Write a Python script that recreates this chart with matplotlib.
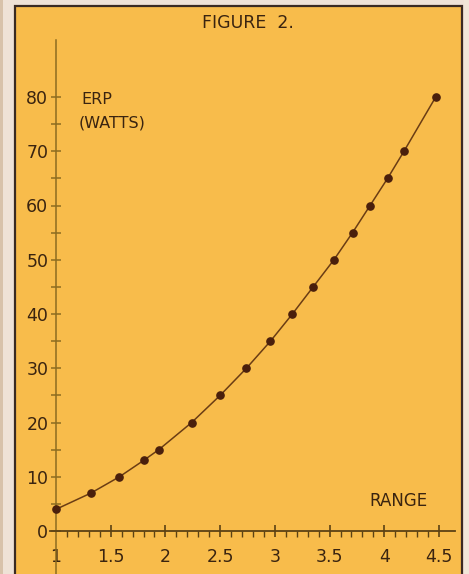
#!/usr/bin/env python3
"""Effective radiated power needed versus range, drawn as a hand-lettered style chart."""

import matplotlib

matplotlib.use("Agg")
import matplotlib.pyplot as plt
from matplotlib.patches import Rectangle
from matplotlib.ticker import FixedLocator

RANGE = [1.0, 1.32, 1.58, 1.80, 1.94, 2.24, 2.50, 2.74, 2.96, 3.16,
         3.35, 3.54, 3.71, 3.87, 4.03, 4.18, 4.47]
ERP_WATTS = [4, 7, 10, 13, 15, 20, 25, 30, 35, 40, 45, 50, 55, 60, 65, 70, 80]

X_TICKS = [1, 1.5, 2, 2.5, 3, 3.5, 4, 4.5]
X_TICK_LABELS = ["1", "1.5", "2", "2.5", "3", "3.5", "4", "4.5"]
X_MINOR = [1.1, 1.2, 1.3, 1.4, 1.6, 1.7, 1.8, 1.9, 2.1, 2.2, 2.3, 2.4,
           2.6, 2.7, 2.8, 2.9, 3.1, 3.2, 3.3, 3.4, 3.6, 3.7, 3.8, 3.9,
           4.1, 4.2, 4.3, 4.4]
Y_TICKS = [0, 10, 20, 30, 40, 50, 60, 70, 80]
Y_MINOR = [5, 15, 25, 35, 45, 55, 65, 75]

W, H = 469, 574
INK = "#3a2410"
PANEL = "#f8bc4b"
PAPER = "#efe2d6"


def main() -> None:
    fig = plt.figure(figsize=(W / 100, H / 100), dpi=100)
    fig.patch.set_facecolor(PAPER)

    ax = fig.add_axes([0, 0, 1, 1])
    ax.set_facecolor("none")
    # data range chosen so the axes fill the whole card
    ax.set_xlim(1 - 56 / 109.43, 1 + 413 / 109.43)
    ax.set_ylim(-43 / 5.425, 531 / 5.425)

    # card background with its dark edge
    ax.add_patch(Rectangle((15 / W, -0.01), 447 / W, 1.01 - 6 / H, transform=ax.transAxes,
                           facecolor=PANEL, edgecolor="#3a2a22", linewidth=1.6,
                           zorder=0, clip_on=False))
    ax.add_patch(Rectangle((0, 0), 3 / W, 1, transform=ax.transAxes,
                           facecolor="#d8c2aa", edgecolor="none", zorder=0, clip_on=False))
    ax.add_patch(Rectangle((464 / W, 0), 5 / W, 1, transform=ax.transAxes,
                           facecolor="#f1e6d8", edgecolor="none", zorder=0, clip_on=False))

    ax.plot(RANGE, ERP_WATTS, color="#6b3d14", linewidth=1.1, zorder=3)
    ax.plot(RANGE, ERP_WATTS, linestyle="none", marker="o", markersize=5.2,
            color="#4a1f0c", zorder=4)

    for side in ("top", "right"):
        ax.spines[side].set_visible(False)
    ax.spines["left"].set_position(("data", 1))
    ax.spines["bottom"].set_position(("data", 0))
    ax.spines["left"].set_bounds(-8, 90.5)
    ax.spines["bottom"].set_bounds(0.945, 4.65)
    ax.spines["left"].set_color("#8c6c20")
    ax.spines["left"].set_linewidth(1.1)
    ax.spines["bottom"].set_color("#5c4214")
    ax.spines["bottom"].set_linewidth(1.3)

    ax.xaxis.set_major_locator(FixedLocator(X_TICKS))
    ax.set_xticklabels(X_TICK_LABELS)
    ax.xaxis.set_minor_locator(FixedLocator(X_MINOR))
    ax.yaxis.set_major_locator(FixedLocator(Y_TICKS))
    ax.yaxis.set_minor_locator(FixedLocator(Y_MINOR))

    ax.tick_params(axis="x", which="major", direction="inout", length=9, width=1.2,
                   color="#5c4214", labelsize=12.5, labelcolor=INK, pad=8)
    ax.tick_params(axis="x", which="minor", direction="out", length=4, width=1.0,
                   color="#5c4214")
    ax.tick_params(axis="y", which="both", direction="inout", length=7, width=1.1,
                   color="#8c6c20", labelsize=12.5, labelcolor=INK, pad=2)
    ax.xaxis.get_major_ticks()[0].tick1line.set_visible(False)

    fig.text(248 / W, 1 - 23 / H, "FIGURE  2.", ha="center", va="center",
             fontsize=12.5, color=INK)
    fig.text(81 / W, 1 - 100 / H, "ERP", ha="left", va="center", fontsize=11.5, color=INK)
    fig.text(79 / W, 1 - 123 / H, "(WATTS)", ha="left", va="center", fontsize=11.5, color=INK)
    fig.text(398 / W, 1 - 501 / H, "RANGE", ha="center", va="center", fontsize=12, color=INK)

    fig.savefig("out.png", dpi=100, facecolor=fig.get_facecolor())
    plt.close(fig)


if __name__ == "__main__":
    main()
